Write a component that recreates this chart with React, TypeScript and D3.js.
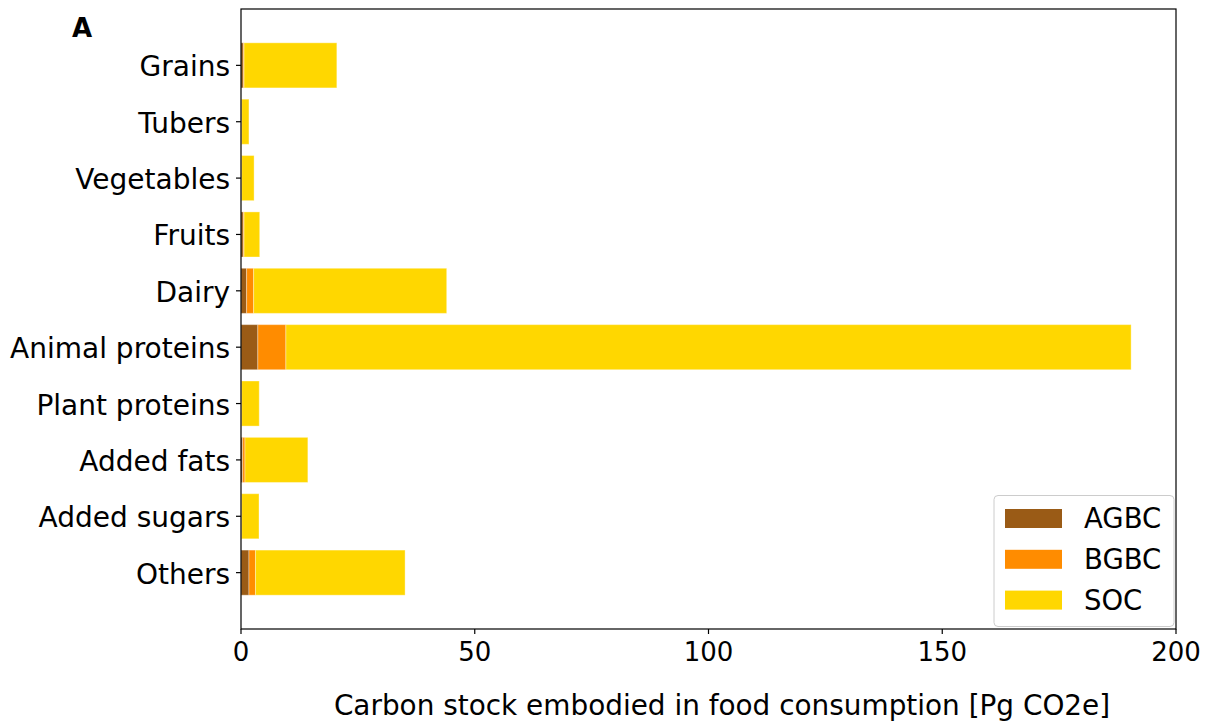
import React from "react";
import * as d3 from "d3";

const categories = [
  "Grains",
  "Tubers",
  "Vegetables",
  "Fruits",
  "Dairy",
  "Animal proteins",
  "Plant proteins",
  "Added fats",
  "Added sugars",
  "Others",
];
// Carbon stock components per food group [Pg CO2e]
const agbc = [0.5, 0.1, 0.1, 0.5, 1.2, 3.6, 0.1, 0.35, 0.1, 1.7];
const bgbc = [0.15, 0.05, 0.05, 0.15, 1.5, 6.0, 0.05, 0.5, 0.05, 1.4];
const soc = [19.85, 1.55, 2.65, 3.35, 41.3, 180.8, 3.75, 13.45, 3.7, 32.0];
const xTicks = [0, 50, 100, 150, 200];
const seriesNames = ["AGBC", "BGBC", "SOC"];
const seriesColors = ["#9a5b16", "#ff8c00", "#ffd700"];

const W = 1212;
const H = 722;
const left = 241;
const right = 1176;
const top = 9;
const bottom = 629;
const font = "'DejaVu Sans', sans-serif";

export default function App() {
  const x = d3.scaleLinear().domain([0, 200]).range([left, right]);
  const y = d3.scaleLinear().domain([-1, 10]).range([top, bottom]);
  const barH = y(0.4) - y(-0.4);

  const rows = categories.map((c, i) => ({
    c,
    vals: [agbc[i], bgbc[i], soc[i]],
  }));
  const stack = d3
    .stack<{ c: string; vals: number[] }, number>()
    .keys([0, 1, 2])
    .value((d, k) => d.vals[k]);
  const stacked = stack(rows);

  return (
    <svg
      width={W}
      height={H}
      style={{ position: "absolute", left: 0, top: 0, background: "#fff" }}
    >
      <text x={72} y={37} fontFamily={font} fontWeight="bold" fontSize={26}>
        A
      </text>

      {stacked.map((layer, li) =>
        layer.map((seg, i) => (
          <rect
            key={`${li}-${i}`}
            x={x(seg[0])}
            y={y(i) - barH / 2}
            width={Math.max(0, x(seg[1]) - x(seg[0]))}
            height={barH}
            fill={seriesColors[li]}
            stroke="#fff"
            strokeOpacity={0.35}
            strokeWidth={1}
          />
        ))
      )}

      <rect
        x={left}
        y={top}
        width={right - left}
        height={bottom - top}
        fill="none"
        stroke="#000"
        strokeWidth={1.2}
      />

      {categories.map((c, i) => (
        <g key={c}>
          <line x1={left - 5} x2={left} y1={y(i)} y2={y(i)} stroke="#000" strokeWidth={1.2} />
          <text
            x={left - 11}
            y={y(i) + 11}
            textAnchor="end"
            fontFamily={font}
            fontSize={28}
          >
            {c}
          </text>
        </g>
      ))}

      {xTicks.map((t) => (
        <g key={t}>
          <line x1={x(t)} x2={x(t)} y1={bottom} y2={bottom + 5} stroke="#000" strokeWidth={1.2} />
          <text
            x={x(t)}
            y={bottom + 32}
            textAnchor="middle"
            fontFamily={font}
            fontSize={26}
          >
            {t}
          </text>
        </g>
      ))}

      <text x={722} y={715} textAnchor="middle" fontFamily={font} fontSize={27.9}>
        Carbon stock embodied in food consumption [Pg CO2e]
      </text>

      <g>
        <rect
          x={994}
          y={495.5}
          width={180}
          height={131}
          rx={4}
          fill="#fff"
          fillOpacity={0.8}
          stroke="#ccc"
          strokeWidth={1}
        />
        {seriesNames.map((s, i) => (
          <g key={s}>
            <rect
              x={1005}
              y={509 + i * 40.8}
              width={57}
              height={19}
              fill={seriesColors[i]}
            />
            <text
              x={1084}
              y={528 + i * 40.8}
              fontFamily={font}
              fontSize={27.5}
            >
              {s}
            </text>
          </g>
        ))}
      </g>
    </svg>
  );
}
